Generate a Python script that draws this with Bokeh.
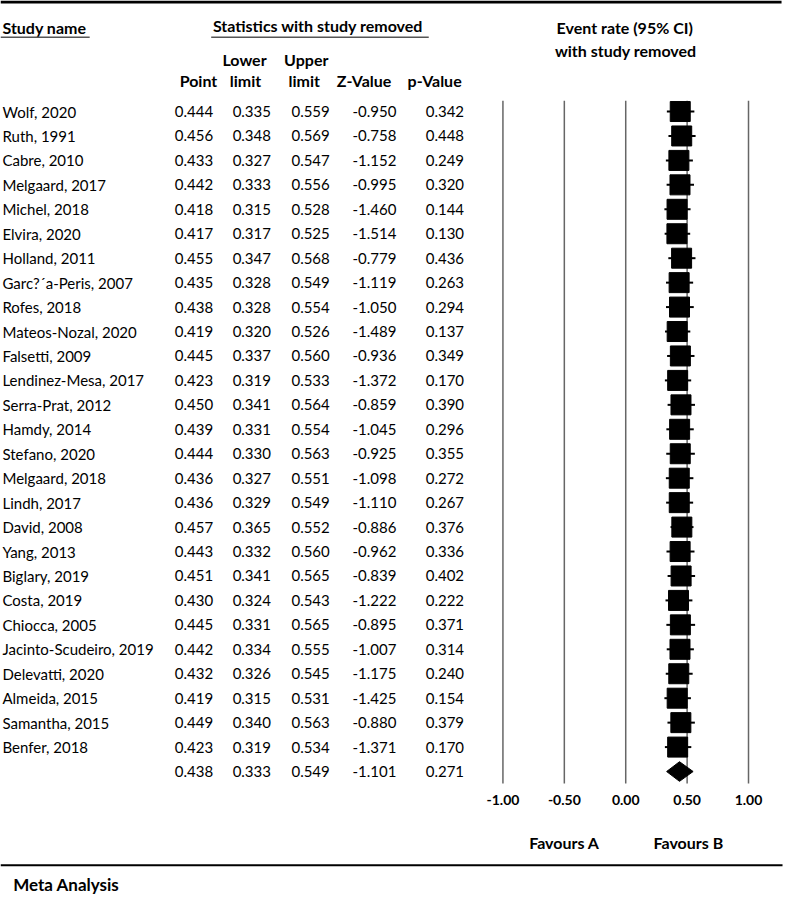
from bokeh.plotting import figure
from bokeh.models import Range1d, LinearAxis, FixedTicker, NumeralTickFormatter
from bokeh.layouts import column
from bokeh.embed import file_html
from bokeh.resources import INLINE
from bokeh.core.properties import value

# ---------------- data ----------------
studies = ["Wolf, 2020", "Ruth, 1991", "Cabre, 2010", "Melgaard, 2017", "Michel, 2018",
           "Elvira, 2020", "Holland, 2011", "Garc?\u00b4a-Peris, 2007", "Rofes, 2018",
           "Mateos-Nozal, 2020", "Falsetti, 2009", "Lendinez-Mesa, 2017", "Serra-Prat, 2012",
           "Hamdy, 2014", "Stefano, 2020", "Melgaard, 2018", "Lindh, 2017", "David, 2008",
           "Yang, 2013", "Biglary, 2019", "Costa, 2019", "Chiocca, 2005",
           "Jacinto-Scudeiro, 2019", "Delevatti, 2020", "Almeida, 2015", "Samantha, 2015",
           "Benfer, 2018"]
point = [0.444, 0.456, 0.433, 0.442, 0.418, 0.417, 0.455, 0.435, 0.438, 0.419, 0.445,
         0.423, 0.450, 0.439, 0.444, 0.436, 0.436, 0.457, 0.443, 0.451, 0.430, 0.445,
         0.442, 0.432, 0.419, 0.449, 0.423]
lower = [0.335, 0.348, 0.327, 0.333, 0.315, 0.317, 0.347, 0.328, 0.328, 0.320, 0.337,
         0.319, 0.341, 0.331, 0.330, 0.327, 0.329, 0.365, 0.332, 0.341, 0.324, 0.331,
         0.334, 0.326, 0.315, 0.340, 0.319]
upper = [0.559, 0.569, 0.547, 0.556, 0.528, 0.525, 0.568, 0.549, 0.554, 0.526, 0.560,
         0.533, 0.564, 0.554, 0.563, 0.551, 0.549, 0.552, 0.560, 0.565, 0.543, 0.565,
         0.555, 0.545, 0.531, 0.563, 0.534]
zvalue = [-0.950, -0.758, -1.152, -0.995, -1.460, -1.514, -0.779, -1.119, -1.050, -1.489,
          -0.936, -1.372, -0.859, -1.045, -0.925, -1.098, -1.110, -0.886, -0.962, -0.839,
          -1.222, -0.895, -1.007, -1.175, -1.425, -0.880, -1.371]
pvalue = [0.342, 0.448, 0.249, 0.320, 0.144, 0.130, 0.436, 0.263, 0.294, 0.137, 0.349,
          0.170, 0.390, 0.296, 0.355, 0.272, 0.267, 0.376, 0.336, 0.402, 0.222, 0.371,
          0.314, 0.240, 0.154, 0.379, 0.170]
summary_point = 0.438
summary_lower = 0.333
summary_upper = 0.549
summary_z = -1.101
summary_p = 0.271
axis_ticks = [-1.0, -0.5, 0.0, 0.5, 1.0]
favour_labels = ["Favours A", "Favours B"]
favour_pos = [-0.5, 0.51]

# ---------------- layout constants ----------------
FONT = "Lato"
FS = "15px"
HFS = "16px"
W, H = 783, 900
REF_W, REF_H = 799.0, 916.0
SY = H / REF_H
ROW0 = 113.0      # reference-space y of first row
STEP = 24.88      # reference pixels per row
n = len(studies)
rows = list(range(n))

def r2p(py):
    return (py - ROW0) / STEP

PX_PER_UNIT = 125.3
X0 = 638.0
xr = Range1d((0 - X0) / PX_PER_UNIT, (REF_W - X0) / PX_PER_UNIT)

FRAME_BOTTOM_REF = 800.0
A_FRAME_H = round(FRAME_BOTTOM_REF * SY)   # 786
A_H = 821
B_H = H - A_H
B_TOP_REF = A_H / SY

# ---------------- main figure ----------------
pa = figure(width=W, height=A_H, x_range=xr,
            y_range=Range1d(r2p(FRAME_BOTTOM_REF), r2p(0)),
            output_backend="svg", toolbar_location=None,
            x_axis_location=None, y_axis_location=None,
            min_border_left=0, min_border_right=0, min_border_top=0,
            min_border_bottom=A_H - A_FRAME_H)
pa.grid.visible = False
pa.outline_line_color = None
pa.background_fill_color = "white"
pa.border_fill_color = "white"
pa.extra_x_ranges = {"px": Range1d(0, REF_W)}
pa.extra_y_ranges = {"py": Range1d(FRAME_BOTTOM_REF, 0)}

def txt(fig, x, y, t, align="left", bold=False, size=FS, xr_name="px", yr_name="py"):
    fig.text(x=x, y=y, text=t, x_range_name=xr_name, y_range_name=yr_name,
             text_font=value(FONT), text_font_size=size, text_align=align,
             text_baseline="middle", text_color="black",
             text_font_style="bold" if bold else "normal")

# top rule
pa.segment(x0=[0], y0=[1.5], x1=[797], y1=[1.5], x_range_name="px", y_range_name="py",
           line_color="black", line_width=3)

# headers
txt(pa, [2], [27], ["Study name"], bold=True, size=HFS)
pa.segment(x0=[0], y0=[37.5], x1=[91], y1=[37.5], x_range_name="px", y_range_name="py",
           line_color="#555555", line_width=1.5)
txt(pa, [324], [25], ["Statistics with study removed"], align="center", bold=True, size=HFS)
pa.segment(x0=[215], y0=[37.5], x1=[437], y1=[37.5], x_range_name="px", y_range_name="py",
           line_color="#555555", line_width=1.5)
txt(pa, [637], [27], ["Event rate (95% CI)"], align="center", bold=True, size=HFS)
txt(pa, [638], [51], ["with study removed"], align="center", bold=True, size=HFS)
txt(pa, [249, 312], [60, 60], ["Lower", "Upper"], align="center", bold=True, size=HFS)
txt(pa, [202, 250, 310, 371, 443], [81] * 5,
    ["Point", "limit", "limit", "Z-Value", "p-Value"], align="center", bold=True, size=HFS)

# table body
all_rows = rows + [n]
txt(pa, [2] * n, rows, studies, yr_name="default")
cols = [(217, point + [summary_point]), (276, lower + [summary_lower]),
        (336, upper + [summary_upper]), (404, zvalue + [summary_z]),
        (473, pvalue + [summary_p])]
for xright, vals in cols:
    txt(pa, [xright] * (n + 1), all_rows, [f"{v:.3f}" for v in vals], align="right",
        yr_name="default")

# reference lines
pa.segment(x0=axis_ticks, y0=[r2p(102)] * len(axis_ticks), x1=axis_ticks,
           y1=[r2p(797)] * len(axis_ticks), line_color="#666666", line_width=1.5)

# forest
pa.segment(x0=lower, y0=rows, x1=upper, y1=rows, line_color="black", line_width=2)
pa.scatter(x=point, y=rows, marker="square", size=20, fill_color="black", line_color="black")
h = 10.0 / STEP
pa.patch(x=[summary_lower, summary_point, summary_upper, summary_point],
         y=[n, n - h, n, n + h], fill_color="black", line_color="black")

ax = LinearAxis(ticker=FixedTicker(ticks=axis_ticks), formatter=NumeralTickFormatter(format="0.00"),
                axis_line_color=None, major_tick_line_color=None, minor_tick_line_color=None,
                major_tick_out=0, major_tick_in=0,
                major_label_text_font=FONT, major_label_text_font_style="bold",
                major_label_text_font_size="14px", major_label_text_color="black",
                major_label_standoff=8)
pa.add_layout(ax, "below")

# ---------------- bottom figure ----------------
pb = figure(width=W, height=B_H, x_range=xr, y_range=Range1d(REF_H, B_TOP_REF),
            output_backend="svg", toolbar_location=None,
            x_axis_location=None, y_axis_location=None,
            min_border_left=0, min_border_right=0, min_border_top=0, min_border_bottom=0)
pb.grid.visible = False
pb.outline_line_color = None
pb.extra_x_ranges = {"px": Range1d(0, REF_W)}
pb.text(x=favour_pos, y=[857, 857], text=favour_labels, text_font=value(FONT),
        text_font_size=HFS, text_font_style="bold", text_align="center",
        text_baseline="middle", text_color="black")
pb.segment(x0=[0], y0=[880], x1=[798], y1=[880], x_range_name="px",
           line_color="black", line_width=2)
pb.text(x=[13], y=[900], text=["Meta Analysis"], x_range_name="px", text_font=value(FONT),
        text_font_size="17px", text_font_style="bold", text_align="left",
        text_baseline="middle", text_color="black")

layout = column(pa, pb, spacing=0)
open("out.html", "w").write(file_html(layout, INLINE))
